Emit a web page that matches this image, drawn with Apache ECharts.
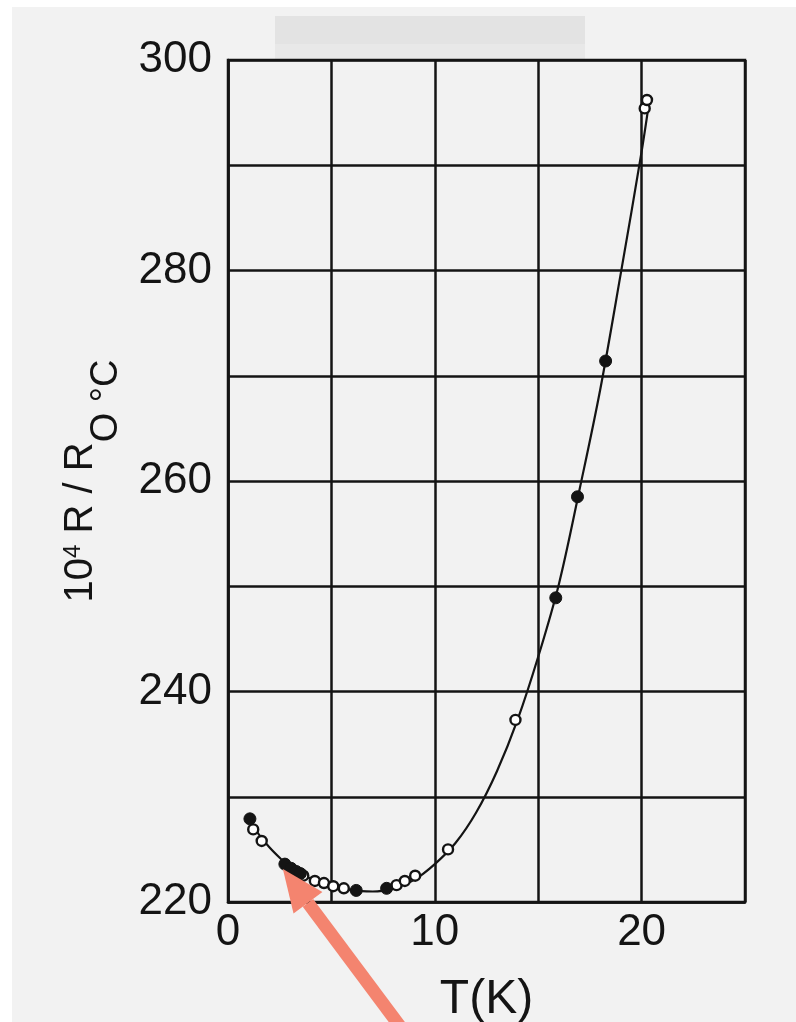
<!DOCTYPE html>
<html>
<head>
<meta charset="utf-8">
<script src="https://cdn.jsdelivr.net/npm/echarts@6/dist/echarts.min.js"></script>
<style>
html,body{margin:0;padding:0;background:#ffffff;}
#c{width:796px;height:1022px;}
</style>
</head>
<body>
<div id="c"></div>
<script>
// Curve: [T (K), 10^4 R/R0°C]
const curveT = [1.0, 1.5, 2.0, 2.5, 3.0, 4.0, 5.0, 6.0, 7.0, 8.0, 9.0, 10.0, 11.0, 12.0, 13.0, 14.0, 15.0, 16.0, 17.0, 18.0, 19.0, 20.0, 20.4];
const curveR = [227.8, 226.4, 225.2, 224.2, 223.3, 222.2, 221.5, 221.1, 221.0, 221.3, 222.1, 223.6, 225.6, 228.5, 232.4, 237.3, 243.3, 250.2, 259.2, 268.7, 279.8, 291.3, 296.5];

// Filled (solid) data points
const filledT = [1.06, 2.75, 3.05, 3.3, 3.5, 6.2, 7.67, 15.85, 16.9, 18.26];
const filledR = [227.9, 223.6, 223.2, 222.9, 222.7, 221.1, 221.3, 248.9, 258.5, 271.4];

// Open (hollow) data points
const openT = [1.22, 1.63, 3.64, 4.2, 4.64, 5.09, 5.6, 8.15, 8.55, 9.05, 10.64, 13.9, 20.15, 20.26];
const openR = [226.9, 225.8, 222.5, 222.0, 221.8, 221.5, 221.3, 221.6, 222.0, 222.5, 225.0, 237.3, 295.4, 296.2];

// Axis labels
const xLabelValues = [0, 10, 20];
const yLabelValues = [220, 240, 260, 280, 300];
const xName = 'T(K)';

const zip = (a, b) => a.map((v, i) => [v, b[i]]);
const FONT = 'Liberation Sans';
const INK = '#141414';

const chart = echarts.init(document.getElementById('c'), null, {renderer: 'canvas'});
chart.setOption({
  backgroundColor: '#f2f2f2',
  animation: false,
  grid: {left: 228, right: 51, top: 60, bottom: 120, outerBoundsMode: 'none', containLabel: false,
         show: true, borderColor: INK, borderWidth: 2.5, backgroundColor: 'transparent'},
  xAxis: {
    type: 'value', min: 0, max: 25, interval: 5,
    name: xName, nameLocation: 'middle', nameGap: 74,
    nameTextStyle: {fontFamily: FONT, fontSize: 48, color: INK},
    axisLine: {show: true, lineStyle: {color: INK, width: 2.5}},
    axisTick: {show: false},
    splitLine: {show: true, lineStyle: {color: INK, width: 2.5}},
    axisLabel: {
      margin: 9, fontFamily: FONT, fontSize: 44, color: INK,
      formatter: v => xLabelValues.indexOf(v) >= 0 ? String(v) : ''
    }
  },
  yAxis: {
    type: 'value', min: 220, max: 300, interval: 10,
    name: '{n|10}{sup|4}{n| R / R}{sub|O °C}', nameLocation: 'middle', nameGap: 102, nameRotate: 90,
    nameTextStyle: {
      color: INK,
      rich: {
        n: {fontFamily: FONT, fontSize: 40, lineHeight: 46, color: INK, verticalAlign: 'top'},
        sup: {fontFamily: FONT, fontSize: 24, lineHeight: 28, color: INK, verticalAlign: 'top'},
        sub: {fontFamily: FONT, fontSize: 38, lineHeight: 65, color: INK, verticalAlign: 'bottom'}
      }
    },
    axisLine: {show: true, lineStyle: {color: INK, width: 2.5}},
    axisTick: {show: false},
    splitLine: {show: true, lineStyle: {color: INK, width: 2.5}},
    axisLabel: {
      margin: 16, fontFamily: FONT, fontSize: 44, color: INK,
      formatter: v => yLabelValues.indexOf(v) >= 0 ? String(v) : ''
    }
  },
  series: [
    {
      type: 'line', data: zip(curveT, curveR), smooth: 0.35, showSymbol: false,
      lineStyle: {color: INK, width: 2.2}, z: 3
    },
    {
      type: 'scatter', data: zip(openT, openR), symbol: 'circle', symbolSize: 10,
      itemStyle: {color: '#ffffff', borderColor: INK, borderWidth: 2.4, opacity: 1}, z: 4
    },
    {
      type: 'scatter', data: zip(filledT, filledR), symbol: 'circle', symbolSize: 12,
      itemStyle: {color: INK, borderColor: INK, borderWidth: 1, opacity: 1}, z: 5
    }
  ]
});

// Annotation arrow pointing at the low-T filled point
const tip0 = chart.convertToPixel({gridIndex: 0}, [filledT[1], filledR[1]]);
const tip = [tip0[0] - 2, tip0[1] + 5];
const dir = [-114, -153];
const len = Math.hypot(dir[0], dir[1]);
const u = [dir[0] / len, dir[1] / len];
const n = [-u[1], u[0]];
const headLen = 42, headHalf = 18, shaftHalf = 6.5;
const base = [tip[0] - u[0] * headLen, tip[1] - u[1] * headLen];
const tail = [tip[0] - u[0] * 260, tip[1] - u[1] * 260];
const arrowColor = '#f4846f';

chart.setOption({
  graphic: [
    {type: 'rect', silent: true, z: -1, shape: {x: 0, y: 0, width: 796, height: 7}, style: {fill: '#ffffff'}},
    {type: 'rect', silent: true, z: -1, shape: {x: 0, y: 0, width: 12, height: 1022}, style: {fill: '#ffffff'}},
    {type: 'rect', silent: true, z: -1, shape: {x: 275, y: 16, width: 310, height: 28}, style: {fill: '#e3e3e3'}},
    {type: 'rect', silent: true, z: -1, shape: {x: 275, y: 44, width: 310, height: 16}, style: {fill: '#e8e8e8'}},
    {type: 'polygon', silent: true, z: 100, shape: {points: [
      [base[0] + n[0] * shaftHalf, base[1] + n[1] * shaftHalf],
      [tail[0] + n[0] * shaftHalf, tail[1] + n[1] * shaftHalf],
      [tail[0] - n[0] * shaftHalf, tail[1] - n[1] * shaftHalf],
      [base[0] - n[0] * shaftHalf, base[1] - n[1] * shaftHalf]
    ]}, style: {fill: arrowColor}},
    {type: 'polygon', silent: true, z: 100, shape: {points: [
      tip,
      [base[0] + n[0] * headHalf, base[1] + n[1] * headHalf],
      [base[0] - n[0] * headHalf, base[1] - n[1] * headHalf]
    ]}, style: {fill: arrowColor}}
  ]
});
</script>
</body>
</html>
